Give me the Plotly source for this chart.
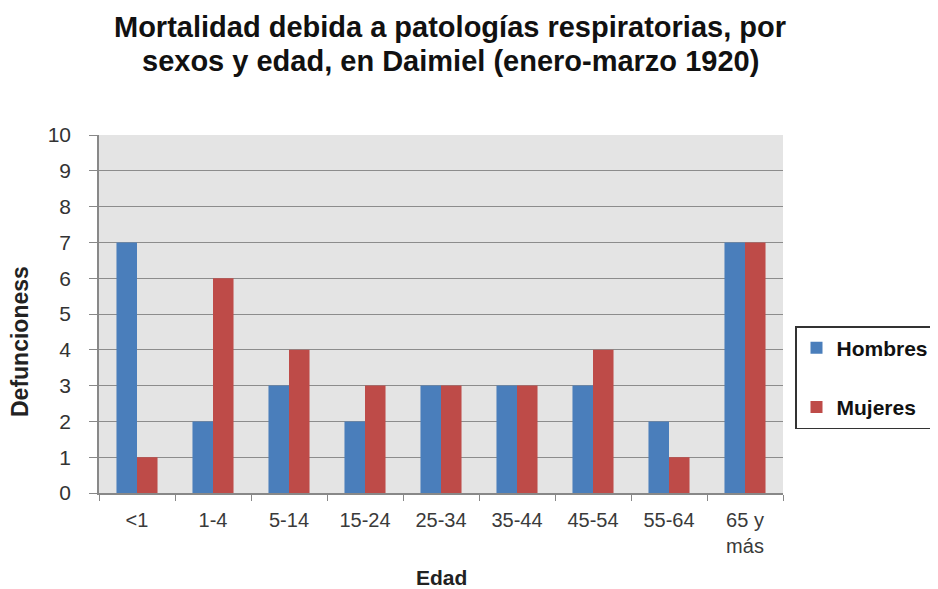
import plotly.graph_objects as go

categorias = ["<1", "1-4", "5-14", "15-24", "25-34", "35-44", "45-54", "55-64", "65 y<br>más"]
hombres = [7, 2, 3, 2, 3, 3, 3, 2, 7]
mujeres = [1, 6, 4, 3, 3, 3, 4, 1, 7]

titulo1 = "Mortalidad debida a patologías respiratorias, por"
titulo2 = "sexos y edad, en Daimiel (enero-marzo 1920)"

# page body has an 8px margin: plot area in screenshot 99..783 x 135..493
OFF = 8
PL, PR, PT, PB = 99, 783, 135, 493
W, H = 938, 589
PH = PB - PT
PW = PR - PL


def py(y_img):
    return (PB - y_img) / PH


def px(x_img):
    return (x_img - PL) / PW


fig = go.Figure()
fig.add_trace(go.Bar(x=categorias, y=hombres, name="<b>Hombres</b>", marker_color="#4a7ebb",
                     marker_line_width=0, legendgroup="h"))
fig.add_trace(go.Bar(x=categorias, y=mujeres, name="<b>Mujeres</b>", marker_color="#be4b48",
                     marker_line_width=0, legendgroup="m"))

fig.update_layout(
    width=W, height=H,
    paper_bgcolor="white", plot_bgcolor="#e4e4e4",
    margin=dict(l=PL - OFF, r=W - PR + OFF, t=PT - OFF, b=H - PB + OFF, autoexpand=False),
    barmode="group", bargap=0.46, bargroupgap=0,
    font=dict(family="Liberation Sans, Arial, sans-serif", color="#222"),
    legend=dict(x=px(795), xanchor="left", y=py(326), yanchor="top",
                bordercolor="#333", borderwidth=1.5, bgcolor="white",
                font=dict(size=21, color="#111"), traceorder="grouped",
                tracegroupgap=29, itemwidth=30),
    showlegend=True,
)
for txt, yc in ((titulo1, 27), (titulo2, 61)):
    fig.add_annotation(text="<b>" + txt + "</b>", xref="paper", yref="paper",
                       x=px(450), y=py(yc), xanchor="center", yanchor="middle",
                       showarrow=False, font=dict(size=29, color="#111"))
fig.add_annotation(text="<b>Defuncioness</b>", xref="paper", yref="paper",
                   x=px(20), y=py(342), xanchor="center", yanchor="middle",
                   textangle=-90, showarrow=False, font=dict(size=23, color="#222"))
fig.add_annotation(text="<b>Edad</b>", xref="paper", yref="paper",
                   x=px(441), y=py(577), xanchor="center", yanchor="middle",
                   showarrow=False, font=dict(size=21, color="#222"))

fig.update_xaxes(
    showline=True, linecolor="#888", linewidth=1.5,
    ticks="outside", tickson="boundaries", ticklen=6, tickcolor="#888",
    tickfont=dict(size=20, color="#3a3a3a"), ticklabelstandoff=8,
    showgrid=False, automargin=False,
)
fig.update_yaxes(
    range=[0, 10], dtick=1, showline=True, linecolor="#888", linewidth=1.5,
    ticks="outside", ticklen=8, tickcolor="#888",
    tickfont=dict(size=21, color="#333"), ticklabelstandoff=14,
    gridcolor="#8c8c8c", gridwidth=1,
    zeroline=False, automargin=False,
)

fig.write_html("out.html")
